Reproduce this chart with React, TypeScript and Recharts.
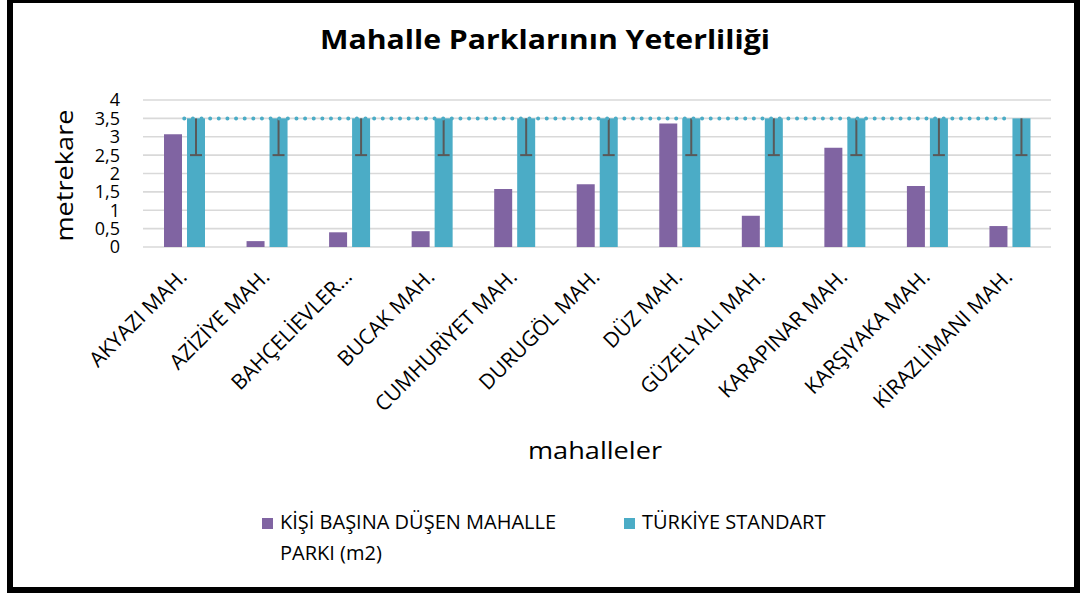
import React from 'react';
import { ComposedChart, Bar, Line, XAxis, YAxis, CartesianGrid, Legend, Label } from 'recharts';

const categories = [
  'AKYAZI MAH.',
  'AZİZİYE MAH.',
  'BAHÇELİEVLER…',
  'BUCAK MAH.',
  'CUMHURİYET MAH.',
  'DURUGÖL MAH.',
  'DÜZ MAH.',
  'GÜZELYALI MAH.',
  'KARAPINAR MAH.',
  'KARŞIYAKA MAH.',
  'KİRAZLİMANI MAH.',
];
const perCapita = [3.07, 0.16, 0.4, 0.43, 1.58, 1.71, 3.36, 0.85, 2.7, 1.66, 0.57];
const standard = [3.5, 3.5, 3.5, 3.5, 3.5, 3.5, 3.5, 3.5, 3.5, 3.5, 3.5];
const standardMinusError = [1, 1, 1, 1, 1, 1, 1, 1, 1, 1, 1];
const yTicks = [0, 0.5, 1, 1.5, 2, 2.5, 3, 3.5, 4];

const SERIES_A = 'KİŞİ BAŞINA DÜŞEN MAHALLE PARKI (m2)';
const SERIES_B = 'TÜRKİYE STANDART';

const data = categories.map((name, i) => ({
  name,
  perCapita: perCapita[i],
  standard: standard[i],
  err: standardMinusError[i],
  line: standard[i],
}));

const FONT = '"Open Sans", "Noto Sans", sans-serif';
const PURPLE = '#8064A2';
const TEAL = '#4BACC6';

const StandardShape = (props: any) => {
  const { x, y, width, height, fill, payload } = props;
  const v = payload.standard;
  const yLow = y + height * (payload.err / v);
  const cx = x + width / 2;
  return (
    <g>
      <rect x={x} y={y} width={width} height={height} fill={fill} />
      <line x1={cx} x2={cx} y1={y} y2={yLow} stroke="#595959" strokeWidth={2} />
      <line x1={cx - 6} x2={cx + 6} y1={yLow} y2={yLow} stroke="#595959" strokeWidth={2} />
    </g>
  );
};

const XTick = (props: any) => {
  const { x, y, payload } = props;
  const ax = x + 4;
  const ay = y + 31;
  return (
    <text
      x={ax}
      y={ay}
      transform={`rotate(-45, ${ax}, ${ay})`}
      textAnchor="end"
      fontSize={21}
      fontFamily={FONT}
      fill="#000"
    >
      {payload.value}
    </text>
  );
};

const legendX = [262, 624];

const LegendContent = (props: any) => {
  const { payload } = props;
  const items = (payload || []).filter((p: any) => p.type !== 'none');
  return (
    <svg width={1083} height={80} style={{ display: 'block' }}>
      {items.map((p: any, i: number) => {
        const lx = legendX[i] ?? 262 + i * 362;
        const words = String(p.value);
        const lines = words === SERIES_A ? ['KİŞİ BAŞINA DÜŞEN MAHALLE', 'PARKI (m2)'] : [words];
        return (
          <g key={i}>
            <rect x={lx} y={18} width={11} height={11} fill={p.color} />
            {lines.map((t, j) => (
              <text key={j} x={lx + 18} y={29 + j * 31} fontSize={20} fontFamily={FONT} fill="#000">
                {t}
              </text>
            ))}
          </g>
        );
      })}
    </svg>
  );
};

export default function App() {
  return (
    <div style={{ position: 'absolute', left: 0, top: 0, width: 1083, height: 594, background: '#fff', overflow: 'hidden' }}>
      <svg width={1083} height={70} style={{ position: 'absolute', left: 0, top: 0 }}>
        <text
          x={545}
          y={49}
          textAnchor="middle"
          fontSize={27}
          fontWeight={700}
          fontFamily={FONT}
          fill="#000"
          textLength={450}
          lengthAdjust="spacingAndGlyphs"
        >
          Mahalle Parklarının Yeterliliği
        </text>
      </svg>
      <div style={{ position: 'absolute', left: 0, top: 0 }}>
        <ComposedChart
          width={1083}
          height={594}
          data={data}
          margin={{ top: 100, right: 32, left: 0, bottom: 0 }}
          barGap={5}
          barSize={18}
        >
          <CartesianGrid vertical={false} stroke="#d9d9d9" strokeWidth={1.6} />
          <XAxis
            dataKey="name"
            interval={0}
            axisLine={false}
            tickLine={false}
            tickSize={0}
            tickMargin={0}
            height={347}
            tick={<XTick />}
          >
            <Label
              content={(p: any) => {
                const vb = p.viewBox || {};
                return (
                  <text
                    x={vb.x + vb.width / 2 - 2}
                    y={vb.y + 212}
                    textAnchor="middle"
                    fontSize={23}
                    fontFamily={FONT}
                    fill="#000"
                    textLength={134}
                    lengthAdjust="spacingAndGlyphs"
                  >
                    mahalleler
                  </text>
                );
              }}
            />
          </XAxis>
          <YAxis
            width={143}
            domain={[0, 4]}
            ticks={yTicks}
            axisLine={false}
            tickLine={false}
            tickSize={6}
            tickMargin={17}
            interval={0}
            tickFormatter={(v: number) => String(v).replace('.', ',')}
            tick={{ fontSize: 18, fontFamily: FONT, fill: '#000' }}
          >
            <Label
              content={(p: any) => {
                const vb = p.viewBox || {};
                const lx = 73;
                const ly = vb.y + vb.height / 2 + 2;
                return (
                  <text
                    x={lx}
                    y={ly}
                    transform={`rotate(-90, ${lx}, ${ly})`}
                    textAnchor="middle"
                    fontSize={24}
                    fontFamily={FONT}
                    fill="#000"
                    textLength={132}
                    lengthAdjust="spacingAndGlyphs"
                  >
                    metrekare
                  </text>
                );
              }}
            />
          </YAxis>
          <Legend
            layout="horizontal"
            verticalAlign="middle"
            align="center"
            wrapperStyle={{ left: 0, top: 500, width: 1083, height: 80 }}
            content={<LegendContent />}
          />
          <Bar dataKey="perCapita" name={SERIES_A} fill={PURPLE} isAnimationActive={false} />
          <Bar dataKey="standard" name={SERIES_B} fill={TEAL} isAnimationActive={false} shape={<StandardShape />} />
          <Line
            dataKey="line"
            type="linear"
            stroke={TEAL}
            strokeWidth={4}
            strokeDasharray="0 8.63"
            strokeLinecap="round"
            dot={false}
            activeDot={false}
            legendType="none"
            isAnimationActive={false}
          />
        </ComposedChart>
      </div>
      <div
        style={{
          position: 'absolute',
          left: 7,
          top: -3,
          width: 1073,
          height: 596,
          border: '6px solid #000',
          boxSizing: 'border-box',
          pointerEvents: 'none',
        }}
      />
    </div>
  );
}
